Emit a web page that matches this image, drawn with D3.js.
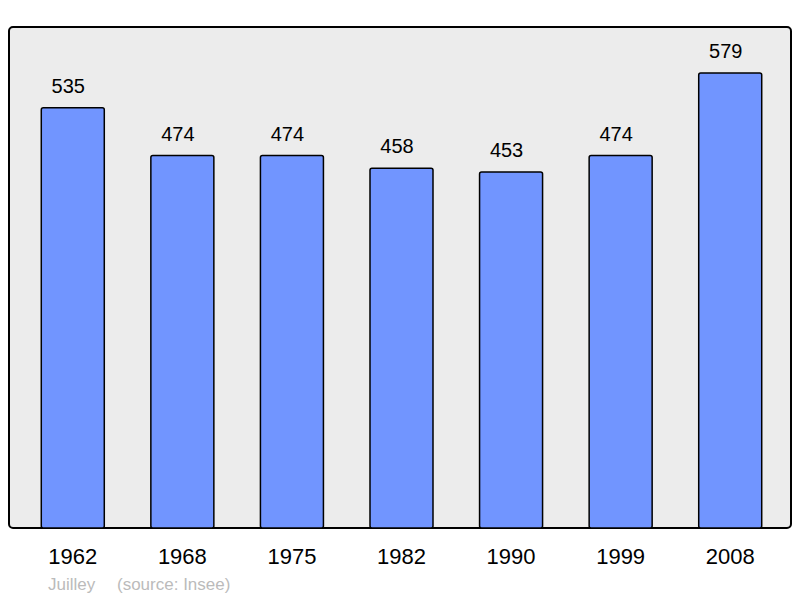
<!DOCTYPE html>
<html><head><meta charset="utf-8">
<script src="https://cdn.jsdelivr.net/npm/d3@7"></script>
<style>body{margin:0;background:#fff}svg{display:block}text{font-family:"Liberation Sans",Arial,sans-serif}</style>
</head><body>
<svg id="c" width="800" height="598"></svg>
<script>
const years = ["1962","1968","1975","1982","1990","1999","2008"];
const population = [535,474,474,458,453,474,579];
const sourceLabel = "Juilley";
const sourceNote = "(source: Insee)";

const svg = d3.select("#c");
const frame = {x0:9, y0:27, x1:791, y1:528};
svg.append("rect").attr("x",frame.x0).attr("y",frame.y0)
  .attr("width",frame.x1-frame.x0).attr("height",frame.y1-frame.y0)
  .attr("rx",4).attr("fill","#ececec").attr("stroke","#000").attr("stroke-width",2);

const x = d3.scaleBand().domain(years).range([18,785]).paddingInner(0.425).paddingOuter(0.2125);
const y = d3.scaleLinear().domain([0,637.7]).range([frame.y1,frame.y0]);

svg.selectAll("rect.bar").data(years).join("rect").attr("class","bar")
  .attr("x",d=>x(d)).attr("width",x.bandwidth())
  .attr("y",(d,i)=>y(population[i])).attr("height",(d,i)=>y(0)-y(population[i]))
  .attr("rx",2).attr("fill","#7195ff").attr("stroke","#000").attr("stroke-width",1.5);

svg.selectAll("text.val").data(years).join("text").attr("class","val")
  .attr("x",d=>x(d)+x.bandwidth()/2-4.5).attr("y",(d,i)=>y(population[i])-15)
  .attr("text-anchor","middle").attr("font-size",20).attr("fill","#000")
  .text((d,i)=>population[i]);

svg.selectAll("text.year").data(years).join("text").attr("class","year")
  .attr("x",d=>x(d)+x.bandwidth()/2).attr("y",564)
  .attr("text-anchor","middle").attr("font-size",22).attr("fill","#000")
  .text(d=>d);

svg.append("text").attr("x",48).attr("y",590).attr("font-size",17).attr("fill","#bbb").text(sourceLabel);
svg.append("text").attr("x",117).attr("y",590).attr("font-size",17).attr("fill","#bbb").text(sourceNote);
</script>
</body></html>
